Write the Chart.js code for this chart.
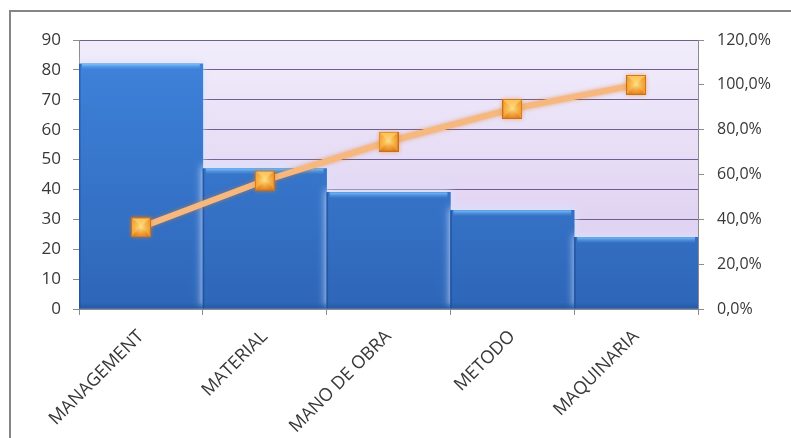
<!DOCTYPE html>
<html>
<head>
<meta charset="utf-8">
<script src="https://cdn.jsdelivr.net/npm/chart.js@4.4.1/dist/chart.umd.min.js"></script>
<style>
    html, body { margin: 0; padding: 0; background: #fff; overflow: hidden; }
    #wrap { position: relative; width: 791px; height: 438px; }
    #frame {
        position: absolute; left: 9px; top: 10px; width: 800px; height: 500px;
        border: 2px solid #858585; box-sizing: border-box;
    }
    #chart { position: absolute; left: 0; top: 0; }
</style>
</head>
<body>
<div id="wrap">
    <div id="frame"></div>
    <canvas id="chart" width="791" height="438"></canvas>
</div>
<script>
// Pareto data
const categories = ['MANAGEMENT', 'MATERIAL', 'MANO DE OBRA', 'METODO', 'MAQUINARIA'];
const frequency = [82, 47, 39, 33, 24];
const cumulativePct = [36.4, 57.3, 74.7, 89.3, 100];
const leftTicks = [0, 10, 20, 30, 40, 50, 60, 70, 80, 90];
const rightTicks = [0, 20, 40, 60, 80, 100, 120];

Chart.defaults.font.family = "'Open Sans', sans-serif";
Chart.defaults.font.size = 16;
Chart.defaults.color = '#383838';

// square marker with pyramid shading
function makeMarker(size) {
    const c = document.createElement('canvas');
    c.width = c.height = size;
    const g = c.getContext('2d');
    const m = size / 2;
    const tri = (pts, color) => {
        g.beginPath();
        g.moveTo(pts[0][0], pts[0][1]);
        g.lineTo(pts[1][0], pts[1][1]);
        g.lineTo(pts[2][0], pts[2][1]);
        g.closePath();
        g.fillStyle = color;
        g.fill();
    };
    tri([[0, 0], [size, 0], [m, m]], '#fcc35a');
    tri([[0, 0], [0, size], [m, m]], '#f5a437');
    tri([[size, 0], [size, size], [m, m]], '#f29c2f');
    tri([[0, size], [size, size], [m, m]], '#e8841c');
    const rg = g.createRadialGradient(m, m, 0, m, m, m);
    rg.addColorStop(0, 'rgba(255,235,150,0.9)');
    rg.addColorStop(1, 'rgba(255,200,90,0)');
    g.fillStyle = rg;
    g.fillRect(0, 0, size, size);
    g.strokeStyle = '#c9701a';
    g.lineWidth = 1;
    g.strokeRect(0.5, 0.5, size - 1, size - 1);
    return c;
}
const marker = makeMarker(20);

const plotBackground = {
    id: 'plotBackground',
    beforeDraw(chart) {
        const { ctx, chartArea: a } = chart;
        const grad = ctx.createLinearGradient(0, a.top, 0, a.bottom);
        grad.addColorStop(0, '#f1edfb');
        grad.addColorStop(1, '#d9c7ee');
        ctx.save();
        ctx.fillStyle = grad;
        ctx.fillRect(a.left, a.top, a.right - a.left, a.bottom - a.top);
        ctx.restore();
    }
};

const barEffects = {
    id: 'barEffects',
    beforeDatasetDraw(chart, args) {
        const ctx = chart.ctx;
        ctx.save();
        if (args.index === 0) {
            ctx.shadowColor = 'rgba(215,228,255,0.9)';
            ctx.shadowBlur = 8;
            ctx.shadowOffsetY = -2;
        } else {
            ctx.shadowColor = 'rgba(230,130,40,0.6)';
            ctx.shadowBlur = 4;
        }
    },
    afterDatasetDraw(chart, args) {
        const ctx = chart.ctx;
        ctx.restore();
        if (args.index !== 0) return;
        ctx.save();
        args.meta.data.forEach(bar => {
            const left = bar.x - bar.width / 2;
            const w = bar.width;
            // light bevel at top
            const hg = ctx.createLinearGradient(0, bar.y, 0, bar.y + 6);
            hg.addColorStop(0, '#7cc0fa');
            hg.addColorStop(1, 'rgba(80,150,230,0)');
            ctx.fillStyle = hg;
            ctx.fillRect(left + 3, bar.y, w - 6, 6);
            // darker edge at the left and bottom
            ctx.fillStyle = 'rgba(25,70,140,0.55)';
            ctx.fillRect(left, bar.y, 1.5, bar.base - bar.y);
            const bg = ctx.createLinearGradient(0, bar.base - 6, 0, bar.base);
            bg.addColorStop(0, 'rgba(30,80,150,0)');
            bg.addColorStop(1, 'rgba(30,80,150,0.6)');
            ctx.fillStyle = bg;
            ctx.fillRect(left, bar.base - 6, w, 6);
        });
        ctx.restore();
    }
};

new Chart(document.getElementById('chart'), {
    data: {
        labels: categories,
        datasets: [
            {
                type: 'bar',
                data: frequency,
                yAxisID: 'y',
                order: 2,
                barPercentage: 1,
                categoryPercentage: 1,
                borderWidth: 0,
                backgroundColor: (context) => {
                    const a = context.chart.chartArea;
                    if (!a) return '#3a78d0';
                    const g = context.chart.ctx.createLinearGradient(0, a.top, 0, a.bottom);
                    g.addColorStop(0, '#3f84dc');
                    g.addColorStop(1, '#2e66b8');
                    return g;
                }
            },
            {
                type: 'line',
                data: cumulativePct,
                yAxisID: 'y2',
                order: 1,
                borderColor: '#f6b87e',
                borderWidth: 6,
                pointStyle: marker,
                pointRadius: 10,
                tension: 0
            }
        ]
    },
    options: {
        responsive: false,
        devicePixelRatio: 1,
        animation: false,
        layout: { padding: { top: 40, left: 0, right: 0, bottom: 0 } },
        plugins: { legend: { display: false }, tooltip: { enabled: false } },
        scales: {
            x: {
                offset: true,
                grid: { offset: true, drawOnChartArea: false, tickLength: 6, tickColor: '#8c8c8c' },
                border: { color: '#8c8c8c' },
                ticks: { autoSkip: false, minRotation: 45, maxRotation: 45, padding: 11, font: { size: 18 } },
                afterFit(scale) { scale.height = 129; }
            },
            y: {
                position: 'left',
                min: 0,
                max: 90,
                afterBuildTicks(scale) { scale.ticks = leftTicks.map(v => ({ value: v })); },
                grid: { color: '#6d5f8f', tickColor: '#8c8c8c', tickLength: 6 },
                border: { color: '#8c8c8c' },
                ticks: { padding: 12, font: { size: 17 } },
                afterFit(scale) { scale.width = 79; }
            },
            y2: {
                position: 'right',
                min: 0,
                max: 120,
                afterBuildTicks(scale) { scale.ticks = rightTicks.map(v => ({ value: v })); },
                grid: { drawOnChartArea: false, tickColor: '#8c8c8c', tickLength: 6 },
                border: { color: '#8c8c8c' },
                ticks: {
                    padding: 13,
                    callback: v => v.toFixed(1).replace('.', ',') + '%'
                },
                afterFit(scale) { scale.width = 93; }
            }
        }
    },
    plugins: [plotBackground, barEffects]
});
</script>
</body>
</html>
